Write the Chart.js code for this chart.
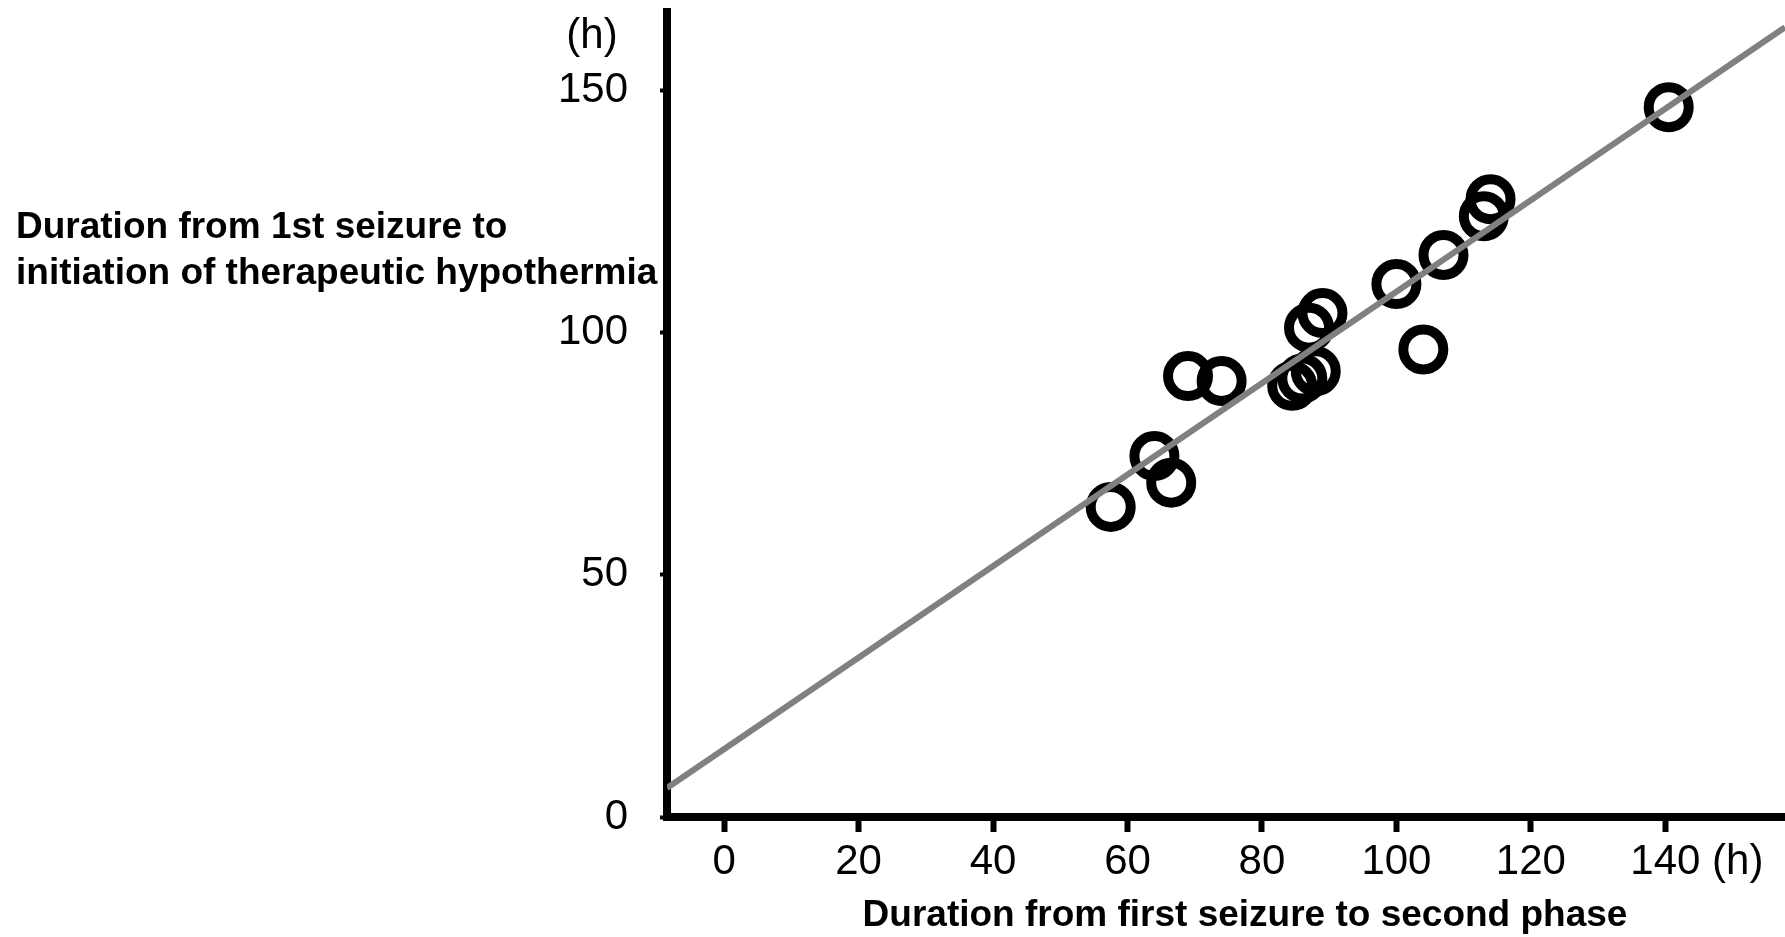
<!DOCTYPE html>
<html>
<head>
<meta charset="utf-8">
<script src="https://cdn.jsdelivr.net/npm/chart.js@4.4.1/dist/chart.umd.min.js"></script>
<style>
html, body { margin: 0; padding: 0; background: #ffffff; }
#wrap { width: 1785px; height: 937px; position: relative; }
</style>
</head>
<body>
<div id="wrap"><canvas id="c" width="1785" height="937"></canvas></div>
<script>
// Duration from first seizure to second phase (h), one entry per patient
const secondPhaseHours = [57.5, 64, 66.5, 69, 74, 84.5, 86, 88, 87, 89, 100, 104, 107, 113, 114, 140.5];
// Duration from 1st seizure to initiation of therapeutic hypothermia (h)
const hypothermiaHours = [64, 74.5, 69, 91, 90, 89, 90.5, 92, 101, 104, 110, 96.5, 116, 124, 127.5, 146.5];

// Regression line end points
const fitLineX = [-8.5, 157.8];
const fitLineY = [6, 163];

// Axis ticks
const xTickValues = [0, 20, 40, 60, 80, 100, 120, 140];
const yTickValues = [0, 50, 100, 150];
const xRange = [-8.5, 157.8];
const yRange = [0, 166.15];

const xTitle = 'Duration from first seizure to second phase';
const yTitleLines = ['Duration from 1st seizure to', 'initiation of therapeutic hypothermia'];
const unitLabel = '(h)';

const FONT = "'Liberation Sans', Arial, Helvetica, sans-serif";

const scatterPoints = secondPhaseHours.map((x, i) => ({ x: x, y: hypothermiaHours[i] }));
const linePoints = fitLineX.map((x, i) => ({ x: x, y: fitLineY[i] }));

// Extra text: axis titles drawn horizontally and the "(h)" unit marks
const textPlugin = {
  id: 'axisText',
  afterDraw(chart) {
    const ctx = chart.ctx;
    const xs = chart.scales.x;
    ctx.save();
    ctx.fillStyle = '#000000';

    // unit above the y axis labels
    ctx.font = '42px ' + FONT;
    ctx.textAlign = 'center';
    ctx.textBaseline = 'middle';
    ctx.fillText(unitLabel, 592, 36);

    // unit after the last x tick label
    const lastTick = xTickValues[xTickValues.length - 1];
    const px = xs.getPixelForValue(lastTick);
    const half = ctx.measureText(String(lastTick)).width / 2;
    ctx.textAlign = 'left';
    ctx.fillText(' ' + unitLabel, px + half, 862);

    // y axis title, two horizontal lines on the left
    ctx.font = 'bold 37px ' + FONT;
    ctx.textAlign = 'left';
    ctx.fillText(yTitleLines[0], 16, 228);
    ctx.fillText(yTitleLines[1], 16, 274);

    // x axis title
    ctx.textAlign = 'center';
    ctx.fillText(xTitle, 1245, 916);
    ctx.restore();
  }
};

new Chart(document.getElementById('c'), {
  type: 'scatter',
  data: {
    datasets: [
      {
        type: 'line',
        data: linePoints,
        borderColor: '#808080',
        borderWidth: 6,
        pointRadius: 0,
        fill: false,
        order: 0
      },
      {
        type: 'scatter',
        data: scatterPoints,
        pointStyle: 'circle',
        pointRadius: 20,
        pointBorderWidth: 10,
        borderWidth: 10,
        borderColor: '#000000',
        backgroundColor: 'rgba(0,0,0,0)',
        pointBackgroundColor: 'rgba(0,0,0,0)',
        order: 1
      }
    ]
  },
  options: {
    responsive: false,
    animation: false,
    devicePixelRatio: 1,
    layout: { autoPadding: false, padding: { left: 0, right: 0, top: 12, bottom: 0 } },
    plugins: {
      legend: { display: false },
      tooltip: { enabled: false },
      title: { display: false }
    },
    scales: {
      x: {
        type: 'linear',
        position: 'bottom',
        min: xRange[0],
        max: xRange[1],
        afterBuildTicks(scale) { scale.ticks = xTickValues.map(v => ({ value: v })); },
        afterFit(scale) {
          scale.height = 120;
          scale.paddingLeft = 0;
          scale.paddingRight = 0;
        },
        grid: {
          display: true,
          drawOnChartArea: false,
          drawTicks: true,
          tickLength: 15,
          tickWidth: 6,
          tickColor: '#000000'
        },
        border: { display: true, color: '#000000', width: 8 },
        ticks: {
          autoSkip: false,
          maxRotation: 0,
          padding: 5,
          color: '#000000',
          font: { family: FONT, size: 42 },
          callback: v => String(v)
        }
      },
      y: {
        type: 'linear',
        position: 'left',
        min: yRange[0],
        max: yRange[1],
        afterBuildTicks(scale) { scale.ticks = yTickValues.map(v => ({ value: v })); },
        afterFit(scale) {
          scale.width = 667;
          scale.paddingTop = 0;
          scale.paddingBottom = 0;
        },
        grid: {
          display: true,
          drawOnChartArea: false,
          drawTicks: true,
          tickLength: 7,
          tickWidth: 4,
          tickColor: '#000000'
        },
        border: { display: true, color: '#000000', width: 8 },
        ticks: {
          padding: 32,
          color: '#000000',
          font: { family: FONT, size: 42 },
          callback: v => String(v)
        }
      }
    }
  },
  plugins: [textPlugin]
});
</script>
</body>
</html>
